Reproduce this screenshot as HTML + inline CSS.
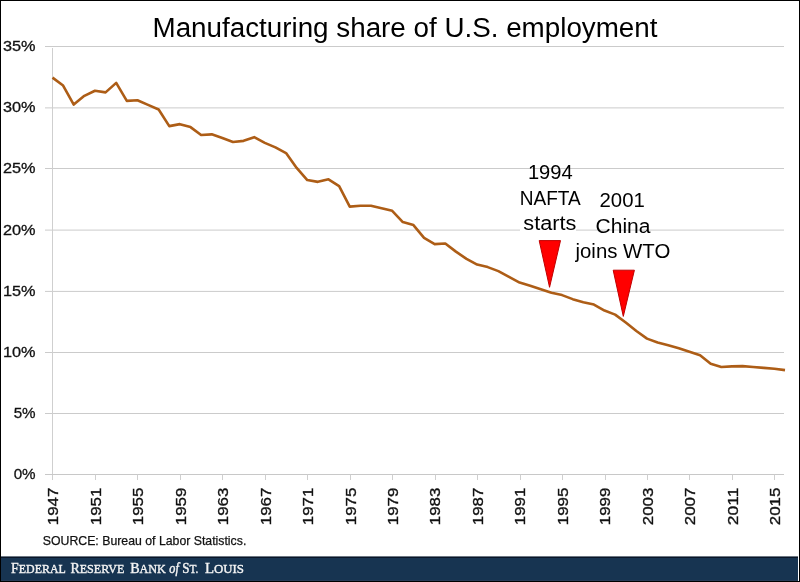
<!DOCTYPE html>
<html><head><meta charset="utf-8"><title>Manufacturing share of U.S. employment</title>
<style>
html,body{margin:0;padding:0;background:#fff;}
#wrap{position:relative;width:800px;height:582px;overflow:hidden;background:#fff;}
svg{position:absolute;left:0;top:0;}
.yl{font-family:"Liberation Sans",sans-serif;font-size:15.2px;fill:#111;stroke:#111;stroke-width:0.3px;}
.xl{font-family:"Liberation Sans",sans-serif;font-size:15.4px;fill:#111;stroke:#111;stroke-width:0.35px;}
.an{font-family:"Liberation Sans",sans-serif;font-size:19.5px;fill:#000;}
.ti{font-family:"Liberation Sans",sans-serif;font-size:27px;fill:#000;}
.src{font-family:"Liberation Sans",sans-serif;font-size:13px;fill:#111;stroke:#111;stroke-width:0.25px;}
.bn{font-family:"Liberation Serif",serif;font-size:15.4px;fill:#f4f4f4;stroke:#f4f4f4;stroke-width:0.4px;}
.bs{font-size:13.3px;}
.bi{font-family:"Liberation Serif",serif;font-style:italic;font-size:14.5px;fill:#f4f4f4;stroke:#f4f4f4;stroke-width:0.45px;}
#frame{position:absolute;left:0;top:0;width:800px;height:582px;box-sizing:border-box;border:1px solid #000;}
</style></head>
<body><div id="wrap">
<svg width="800" height="582" viewBox="0 0 800 582">
<line x1="45" y1="413.50" x2="784" y2="413.50" stroke="#cbcbcb" stroke-width="1"/>
<line x1="45" y1="352.50" x2="784" y2="352.50" stroke="#cbcbcb" stroke-width="1"/>
<line x1="45" y1="291.40" x2="784" y2="291.40" stroke="#cbcbcb" stroke-width="1"/>
<line x1="45" y1="230.10" x2="784" y2="230.10" stroke="#cbcbcb" stroke-width="1"/>
<line x1="45" y1="168.50" x2="784" y2="168.50" stroke="#cbcbcb" stroke-width="1"/>
<line x1="45" y1="107.90" x2="784" y2="107.90" stroke="#cbcbcb" stroke-width="1"/>
<line x1="45" y1="46.50" x2="784" y2="46.50" stroke="#cbcbcb" stroke-width="1"/>
<rect x="520" y="172" width="56" height="64" fill="#fff"/>
<text x="35.6" y="479.10" text-anchor="end" class="yl">0%</text>
<text x="35.6" y="417.96" text-anchor="end" class="yl">5%</text>
<text x="35.6" y="356.81" text-anchor="end" class="yl" textLength="32.6" lengthAdjust="spacingAndGlyphs">10%</text>
<text x="35.6" y="295.67" text-anchor="end" class="yl" textLength="32.6" lengthAdjust="spacingAndGlyphs">15%</text>
<text x="35.6" y="234.53" text-anchor="end" class="yl" textLength="32.6" lengthAdjust="spacingAndGlyphs">20%</text>
<text x="35.6" y="173.39" text-anchor="end" class="yl" textLength="32.6" lengthAdjust="spacingAndGlyphs">25%</text>
<text x="35.6" y="112.24" text-anchor="end" class="yl" textLength="32.6" lengthAdjust="spacingAndGlyphs">30%</text>
<text x="35.6" y="51.10" text-anchor="end" class="yl" textLength="32.6" lengthAdjust="spacingAndGlyphs">35%</text>
<line x1="52.5" y1="48" x2="52.5" y2="480" stroke="#cfcfcf" stroke-width="1"/>
<line x1="45" y1="474.5" x2="784" y2="474.5" stroke="#c8c8c8" stroke-width="1"/>
<text transform="translate(58.30,487.6) rotate(-90)" text-anchor="end" class="xl" textLength="37.6" lengthAdjust="spacingAndGlyphs">1947</text>
<line x1="95.50" y1="474.5" x2="95.50" y2="480" stroke="#cfcfcf" stroke-width="1"/>
<text transform="translate(100.76,487.6) rotate(-90)" text-anchor="end" class="xl" textLength="37.6" lengthAdjust="spacingAndGlyphs">1951</text>
<line x1="137.50" y1="474.5" x2="137.50" y2="480" stroke="#cfcfcf" stroke-width="1"/>
<text transform="translate(143.23,487.6) rotate(-90)" text-anchor="end" class="xl" textLength="37.6" lengthAdjust="spacingAndGlyphs">1955</text>
<line x1="180.50" y1="474.5" x2="180.50" y2="480" stroke="#cfcfcf" stroke-width="1"/>
<text transform="translate(185.69,487.6) rotate(-90)" text-anchor="end" class="xl" textLength="37.6" lengthAdjust="spacingAndGlyphs">1959</text>
<line x1="222.50" y1="474.5" x2="222.50" y2="480" stroke="#cfcfcf" stroke-width="1"/>
<text transform="translate(228.16,487.6) rotate(-90)" text-anchor="end" class="xl" textLength="37.6" lengthAdjust="spacingAndGlyphs">1963</text>
<line x1="265.50" y1="474.5" x2="265.50" y2="480" stroke="#cfcfcf" stroke-width="1"/>
<text transform="translate(270.62,487.6) rotate(-90)" text-anchor="end" class="xl" textLength="37.6" lengthAdjust="spacingAndGlyphs">1967</text>
<line x1="307.50" y1="474.5" x2="307.50" y2="480" stroke="#cfcfcf" stroke-width="1"/>
<text transform="translate(313.08,487.6) rotate(-90)" text-anchor="end" class="xl" textLength="37.6" lengthAdjust="spacingAndGlyphs">1971</text>
<line x1="350.50" y1="474.5" x2="350.50" y2="480" stroke="#cfcfcf" stroke-width="1"/>
<text transform="translate(355.55,487.6) rotate(-90)" text-anchor="end" class="xl" textLength="37.6" lengthAdjust="spacingAndGlyphs">1975</text>
<line x1="392.50" y1="474.5" x2="392.50" y2="480" stroke="#cfcfcf" stroke-width="1"/>
<text transform="translate(398.01,487.6) rotate(-90)" text-anchor="end" class="xl" textLength="37.6" lengthAdjust="spacingAndGlyphs">1979</text>
<line x1="435.50" y1="474.5" x2="435.50" y2="480" stroke="#cfcfcf" stroke-width="1"/>
<text transform="translate(440.47,487.6) rotate(-90)" text-anchor="end" class="xl" textLength="37.6" lengthAdjust="spacingAndGlyphs">1983</text>
<line x1="477.50" y1="474.5" x2="477.50" y2="480" stroke="#cfcfcf" stroke-width="1"/>
<text transform="translate(482.94,487.6) rotate(-90)" text-anchor="end" class="xl" textLength="37.6" lengthAdjust="spacingAndGlyphs">1987</text>
<line x1="520.50" y1="474.5" x2="520.50" y2="480" stroke="#cfcfcf" stroke-width="1"/>
<text transform="translate(525.40,487.6) rotate(-90)" text-anchor="end" class="xl" textLength="37.6" lengthAdjust="spacingAndGlyphs">1991</text>
<line x1="562.50" y1="474.5" x2="562.50" y2="480" stroke="#cfcfcf" stroke-width="1"/>
<text transform="translate(567.87,487.6) rotate(-90)" text-anchor="end" class="xl" textLength="37.6" lengthAdjust="spacingAndGlyphs">1995</text>
<line x1="605.50" y1="474.5" x2="605.50" y2="480" stroke="#cfcfcf" stroke-width="1"/>
<text transform="translate(610.33,487.6) rotate(-90)" text-anchor="end" class="xl" textLength="37.6" lengthAdjust="spacingAndGlyphs">1999</text>
<line x1="647.50" y1="474.5" x2="647.50" y2="480" stroke="#cfcfcf" stroke-width="1"/>
<text transform="translate(652.79,487.6) rotate(-90)" text-anchor="end" class="xl" textLength="37.6" lengthAdjust="spacingAndGlyphs">2003</text>
<line x1="689.50" y1="474.5" x2="689.50" y2="480" stroke="#cfcfcf" stroke-width="1"/>
<text transform="translate(695.26,487.6) rotate(-90)" text-anchor="end" class="xl" textLength="37.6" lengthAdjust="spacingAndGlyphs">2007</text>
<line x1="732.50" y1="474.5" x2="732.50" y2="480" stroke="#cfcfcf" stroke-width="1"/>
<text transform="translate(737.72,487.6) rotate(-90)" text-anchor="end" class="xl" textLength="37.6" lengthAdjust="spacingAndGlyphs">2011</text>
<line x1="774.50" y1="474.5" x2="774.50" y2="480" stroke="#cfcfcf" stroke-width="1"/>
<text transform="translate(780.18,487.6) rotate(-90)" text-anchor="end" class="xl" textLength="37.6" lengthAdjust="spacingAndGlyphs">2015</text>
<polyline points="52.50,77.60 63.12,85.55 73.73,104.60 84.35,95.85 94.96,90.75 105.58,92.35 116.20,82.85 126.81,100.85 137.43,100.25 148.04,104.85 158.66,109.45 169.28,126.15 179.89,124.15 190.51,127.10 201.12,135.05 211.74,134.35 222.36,138.05 232.97,142.05 243.59,140.85 254.20,137.15 264.82,142.85 275.43,147.35 286.05,153.05 296.67,167.95 307.28,180.05 317.90,181.85 328.51,179.35 339.13,186.05 349.75,206.65 360.36,205.75 370.98,205.75 381.59,208.15 392.21,210.85 402.83,222.10 413.44,225.10 424.06,237.85 434.67,244.15 445.29,243.45 455.91,251.65 466.52,258.85 477.14,264.55 487.75,267.10 498.37,271.15 508.99,276.85 519.60,282.55 530.22,285.85 540.83,289.35 551.45,292.85 562.07,295.10 572.68,299.15 583.30,302.15 593.91,304.55 604.53,310.55 615.14,314.60 625.76,322.55 636.38,331.05 646.99,338.65 657.61,342.55 668.22,345.35 678.84,348.35 689.46,351.85 700.07,355.15 710.69,363.85 721.30,366.95 731.92,366.35 742.54,366.10 753.15,366.95 763.77,367.85 774.38,368.75 785.00,370.10" fill="none" stroke="#ad5d16" stroke-width="2.6" stroke-linejoin="round" stroke-linecap="butt"/>
<polygon points="539.2,240.6 560.5,240.6 549.55,287.3" fill="#ff0000" stroke="#c00000" stroke-width="1"/>
<polygon points="613.2,270.2 634.4,270.2 623.3,316.4" fill="#ff0000" stroke="#c00000" stroke-width="1"/>
<text class="an" x="527.90" y="178.6" textLength="44.80" lengthAdjust="spacingAndGlyphs">1994</text>
<text class="an" x="519.80" y="204.6" textLength="61.00" lengthAdjust="spacingAndGlyphs">NAFTA</text>
<text class="an" x="523.30" y="229.9" textLength="53.00" lengthAdjust="spacingAndGlyphs">starts</text>
<text class="an" x="599.50" y="207.3" textLength="45.30" lengthAdjust="spacingAndGlyphs">2001</text>
<text class="an" x="595.60" y="232.6" textLength="54.90" lengthAdjust="spacingAndGlyphs">China</text>
<text class="an" x="575.50" y="258.4" textLength="94.80" lengthAdjust="spacingAndGlyphs">joins WTO</text>
<text x="152.5" y="37" class="ti" textLength="505" lengthAdjust="spacingAndGlyphs">Manufacturing share of U.S. employment</text>
<text x="42.8" y="545.2" class="src" textLength="203.5" lengthAdjust="spacingAndGlyphs">SOURCE: Bureau of Labor Statistics.</text>
<rect x="1" y="556" width="797" height="25" fill="#173451"/>
<rect x="1" y="556" width="797" height="1" fill="#6d7884"/>
<rect x="1" y="557" width="797" height="1" fill="#0a1628"/>
<rect x="1" y="580" width="797" height="1" fill="#283d58"/>
<text class="bn" x="11.10" y="572.8" textLength="54.70" lengthAdjust="spacingAndGlyphs">F<tspan class="bs">EDERAL</tspan></text>
<text class="bn" x="70.40" y="572.8" textLength="54.00" lengthAdjust="spacingAndGlyphs">R<tspan class="bs">ESERVE</tspan></text>
<text class="bn" x="130.20" y="572.8" textLength="35.70" lengthAdjust="spacingAndGlyphs">B<tspan class="bs">ANK</tspan></text>
<text class="bn" x="182.20" y="572.8" textLength="16.20" lengthAdjust="spacingAndGlyphs">S<tspan class="bs">T.</tspan></text>
<text class="bn" x="204.90" y="572.8" textLength="39.00" lengthAdjust="spacingAndGlyphs">L<tspan class="bs">OUIS</tspan></text>
<text class="bi" x="169.3" y="572.8" textLength="9.5" lengthAdjust="spacingAndGlyphs">of</text>
</svg>
<div id="frame"></div>
</div></body></html>
